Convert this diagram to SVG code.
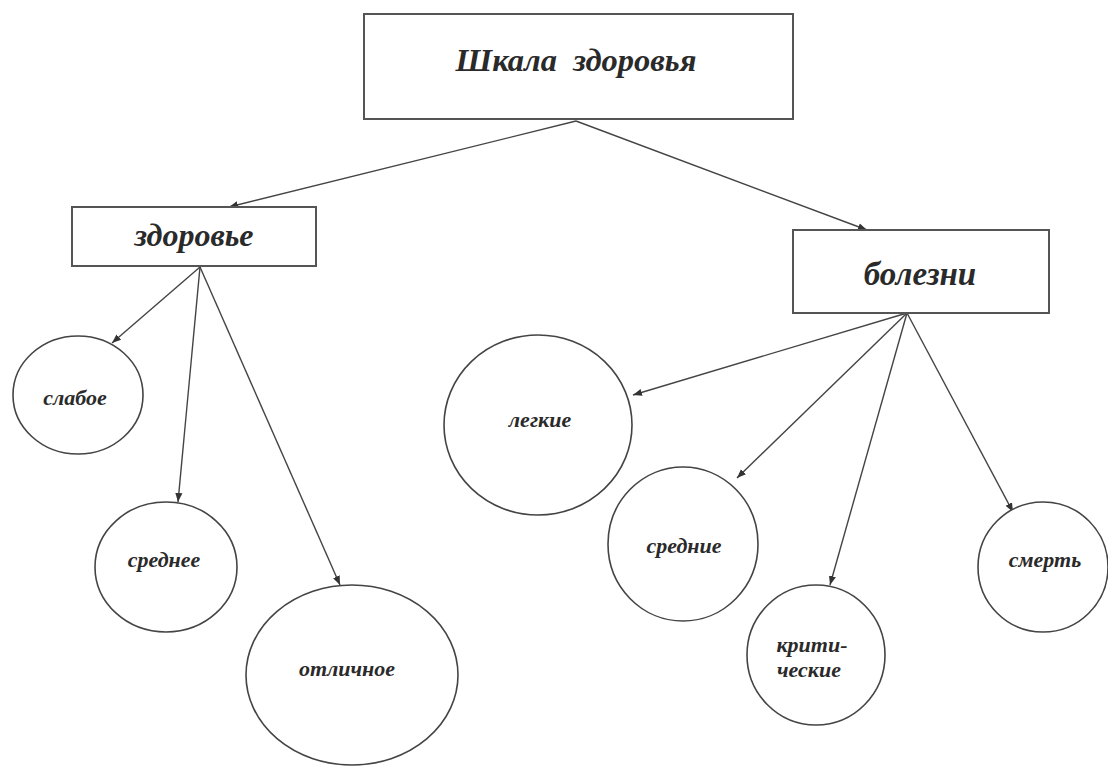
<svg xmlns="http://www.w3.org/2000/svg" width="1108" height="767" viewBox="0 0 1108 767">
<defs>
<marker id="ah" viewBox="0 0 10 10" refX="10" refY="5" markerWidth="9" markerHeight="9" markerUnits="userSpaceOnUse" orient="auto">
<path d="M0,1 L10,5 L0,9 z" fill="#333"/>
</marker>
<style>
.box{fill:#fff;stroke:#555;stroke-width:2}
.ell{fill:#fff;stroke:#444;stroke-width:1.6}
.t{font-family:"Liberation Serif","DejaVu Serif",serif;font-weight:bold;font-style:italic;fill:#2a2a2a;text-anchor:middle}
.s{font-size:22px}
.edge{stroke:#444;stroke-width:1.4;fill:none;marker-end:url(#ah)}
</style>
</defs>
<rect width="1108" height="767" fill="#fff"/>
<g id="connectors">
<line class="edge" x1="576" y1="121" x2="229" y2="207"/>
<line class="edge" x1="576" y1="121" x2="867" y2="230"/>
<line class="edge" x1="200" y1="267" x2="112" y2="343"/>
<line class="edge" x1="200" y1="267" x2="178" y2="502"/>
<line class="edge" x1="200" y1="267" x2="340" y2="585"/>
<line class="edge" x1="907" y1="313" x2="633" y2="395"/>
<line class="edge" x1="907" y1="313" x2="737" y2="478"/>
<line class="edge" x1="907" y1="313" x2="830" y2="585"/>
<line class="edge" x1="907" y1="313" x2="1013" y2="512"/>
</g>
<g id="scale">
<rect class="box" x="364" y="14" width="429" height="105"/>
<text class="t" x="576" y="71" font-size="32.5" xml:space="preserve">Шкала  здоровья</text>
</g>
<g id="health">
<rect class="box" x="72" y="207" width="244" height="59"/>
<text class="t" x="194" y="246" font-size="32">здоровье</text>
</g>
<g id="disease">
<rect class="box" x="793" y="230" width="256" height="83"/>
<text class="t" x="920" y="285" font-size="33">болезни</text>
</g>
<g id="weak">
<ellipse class="ell" cx="78" cy="395" rx="65" ry="59"/>
<text class="t s" x="75" y="405">слабое</text>
</g>
<g id="medium">
<ellipse class="ell" cx="166" cy="567" rx="71" ry="65"/>
<text class="t s" x="164" y="567">среднее</text>
</g>
<g id="excellent">
<ellipse class="ell" cx="352" cy="675" rx="106" ry="90"/>
<text class="t s" x="347" y="676">отличное</text>
</g>
<g id="light">
<ellipse class="ell" cx="538" cy="425" rx="94" ry="90"/>
<text class="t s" x="540" y="427">легкие</text>
</g>
<g id="moderate">
<ellipse class="ell" cx="683" cy="544" rx="75" ry="77"/>
<text class="t s" x="684" y="553">средние</text>
</g>
<g id="critical">
<ellipse class="ell" cx="816" cy="655" rx="69" ry="70"/>
<text class="t s" x="812" y="652">крити-</text>
<text class="t s" x="809" y="677">ческие</text>
</g>
<g id="death">
<ellipse class="ell" cx="1043" cy="567" rx="65" ry="65"/>
<text class="t s" x="1045" y="567">смерть</text>
</g>
</svg>
